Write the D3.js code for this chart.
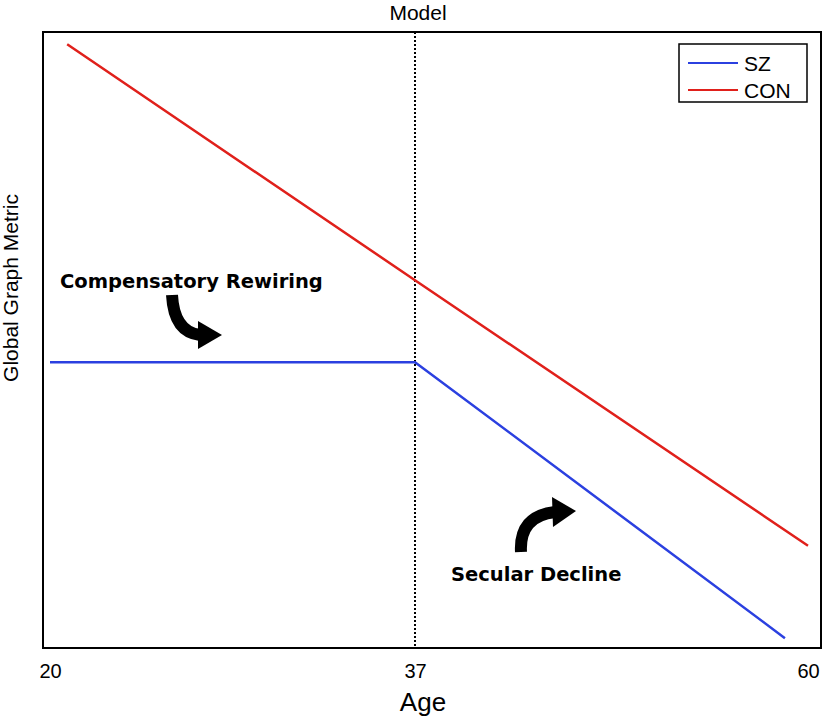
<!DOCTYPE html>
<html>
<head>
<meta charset="utf-8">
<script src="https://cdn.jsdelivr.net/npm/d3@7"></script>
<style>
  body { margin: 0; background: #fff; }
  svg { display: block; }
</style>
</head>
<body>
<div id="chart"></div>
<script>
// Datos del modelo (esquemático)
const tickAges = [20, 37, 60];
const conAges = [20.8, 37, 60];
const conValues = [98, 59.7, 16.6];
const szAges = [20, 37, 58.65];
const szValues = [46.4, 46.4, 1.6];
const seriesNames = ["SZ", "CON"];
const seriesColors = ["#2b40e0", "#e0201b"];
const breakAge = 37;

const width = 829;
const height = 717;
const box = { left: 43, right: 821, top: 32, bottom: 648 };
const labelFont = "Liberation Sans, Arial, sans-serif";

const svg = d3.select("#chart").append("svg")
    .attr("width", width)
    .attr("height", height);

// Escalas (el eje X es por tramos)
const x = d3.scaleLinear().domain([20, 37, 60]).range([50, 415, 808]);
const y = d3.scaleLinear().domain([0, 100]).range([box.bottom, box.top]);

// Marco
svg.append("rect")
    .attr("x", box.left).attr("y", box.top)
    .attr("width", box.right - box.left).attr("height", box.bottom - box.top)
    .attr("fill", "none").attr("stroke", "#000").attr("stroke-width", 2);

// Línea vertical punteada en 37
svg.append("line")
    .attr("x1", x(breakAge)).attr("x2", x(breakAge))
    .attr("y1", box.top).attr("y2", box.bottom)
    .attr("stroke", "#000").attr("stroke-width", 2)
    .attr("stroke-dasharray", "2,2");

const line = d3.line().x(d => x(d[0])).y(d => y(d[1]));

svg.append("path")
    .datum(d3.zip(conAges, conValues))
    .attr("d", line)
    .attr("fill", "none").attr("stroke", seriesColors[1]).attr("stroke-width", 2.5);

svg.append("path")
    .datum(d3.zip(szAges, szValues))
    .attr("d", line)
    .attr("fill", "none").attr("stroke", seriesColors[0]).attr("stroke-width", 2.5);

// Eje X
const xAxis = svg.append("g")
    .attr("transform", `translate(0, 661)`)
    .call(d3.axisBottom(x).tickValues(tickAges).tickSize(0).tickFormat(d3.format("d")));
xAxis.select(".domain").remove();
xAxis.selectAll("text")
    .attr("font-family", labelFont)
    .attr("font-size", 20)
    .attr("fill", "#000");

// Títulos
svg.append("text")
    .attr("x", 418).attr("y", 20)
    .attr("text-anchor", "middle")
    .attr("font-family", labelFont)
    .attr("font-size", 21)
    .text("Model");

svg.append("text")
    .attr("x", 423).attr("y", 711)
    .attr("text-anchor", "middle")
    .attr("font-family", labelFont)
    .attr("font-size", 26)
    .text("Age");

svg.append("text")
    .attr("transform", `translate(18, 288) rotate(-90)`)
    .attr("text-anchor", "middle")
    .attr("font-family", labelFont)
    .attr("font-size", 21)
    .text("Global Graph Metric");

// Leyenda
const legend = svg.append("g").attr("transform", "translate(679, 44)");
legend.append("rect")
    .attr("width", 128).attr("height", 58)
    .attr("fill", "#fff").attr("stroke", "#000").attr("stroke-width", 1.5);
seriesNames.forEach((name, i) => {
    const ly = 19 + i * 27;
    legend.append("line")
        .attr("x1", 9).attr("x2", 59).attr("y1", ly).attr("y2", ly)
        .attr("stroke", seriesColors[i]).attr("stroke-width", 2);
    legend.append("text")
        .attr("x", 65).attr("y", ly + 8)
        .attr("font-family", labelFont)
        .attr("font-size", 21)
        .text(name);
});

// Anotaciones
const annoFont = "DejaVu Sans, sans-serif";
svg.append("text")
    .attr("x", 60).attr("y", 288)
    .attr("font-family", annoFont).attr("font-weight", "bold").attr("font-size", 19.5)
    .text("Compensatory Rewiring");

svg.append("text")
    .attr("x", 451).attr("y", 581)
    .attr("font-family", annoFont).attr("font-weight", "bold").attr("font-size", 19.5)
    .text("Secular Decline");

// Flechas curvas
svg.append("path")
    .attr("d", "M172,295 Q174,332 200,335")
    .attr("fill", "none").attr("stroke", "#000").attr("stroke-width", 12);
svg.append("path")
    .attr("d", "M198,321 L222,335 L198,349 Z")
    .attr("fill", "#000");

svg.append("path")
    .attr("d", "M521,552 Q519,516 555,512")
    .attr("fill", "none").attr("stroke", "#000").attr("stroke-width", 12);
svg.append("path")
    .attr("d", "M552,497 L576,511 L553,527 Z")
    .attr("fill", "#000");
</script>
</body>
</html>
